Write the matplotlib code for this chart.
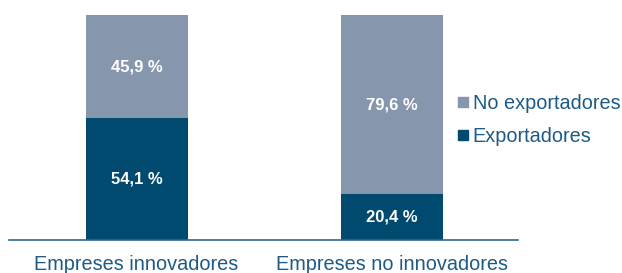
import matplotlib
matplotlib.use("Agg")
import matplotlib.pyplot as plt
from matplotlib.lines import Line2D

categories = ["Empreses innovadores", "Empreses no innovadores"]
exportadores = [54.1, 20.4]
no_exportadores = [45.9, 79.6]
series_names = ["Exportadores", "No exportadores"]

c_dark = "#00496f"
c_light = "#8696ac"
c_text = "#1d5b86"

plt.rcParams['font.family'] = ['Liberation Sans', 'DejaVu Sans']

fig = plt.figure(figsize=(6.22, 2.73), dpi=100)
ax = fig.add_axes([9/622, 33/273, 509/622, 225/273])

x = [0, 1]
w = 0.4
ax.bar(x, exportadores, width=w, color=c_dark)
ax.bar(x, no_exportadores, width=w, bottom=exportadores, color=c_light)

fmt = lambda v: f"{v:.1f}".replace(".", ",") + " %"
for xi, e, n in zip(x, exportadores, no_exportadores):
    ax.text(xi, e / 2, fmt(e), ha="center", va="center", color="white",
            fontsize=12, fontweight="bold")
    ax.text(xi, e + n / 2, fmt(n), ha="center", va="center", color="white",
            fontsize=12, fontweight="bold")

ax.set_xlim(-0.5, 1.496)
ax.set_ylim(0, 100)
ax.set_yticks([])
ax.set_xticks(x)
ax.set_xticklabels(categories, fontsize=14.3, color=c_text)
ax.tick_params(axis="x", length=0, pad=11)
for s in ["top", "right", "left"]:
    ax.spines[s].set_visible(False)
ax.spines["bottom"].set_color("#2a6a96")
ax.spines["bottom"].set_linewidth(1.2)

handles = [Line2D([], [], marker="s", linestyle="none", markersize=7.5, color=c_light),
           Line2D([], [], marker="s", linestyle="none", markersize=7.5, color=c_dark)]
leg = fig.legend(handles, [series_names[1], series_names[0]], loc="center left",
                 bbox_to_anchor=(448/622, 1 - 120/273), frameon=False,
                 fontsize=14.3, handlelength=0.5, handletextpad=0.25,
                 labelspacing=0.75, borderpad=0)
for t in leg.get_texts():
    t.set_color(c_text)

fig.savefig("out.png", dpi=100)
